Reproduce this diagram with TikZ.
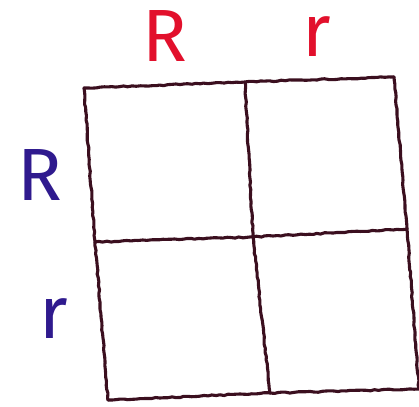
\documentclass[tikz,border=0pt]{standalone}
\usepackage{fontspec}
\setmainfont{Fira Sans}
\usetikzlibrary{decorations.pathmorphing}
\definecolor{inkline}{HTML}{3B0F1F}
\definecolor{inkred}{HTML}{E2102C}
\definecolor{inkblue}{HTML}{2F1A8E}
\begin{document}
\begin{tikzpicture}[x=1pt,y=-1pt,
  gridline/.style={draw=inkline,line width=3.1pt,line cap=round,line join=round,
    decorate,decoration={random steps,segment length=4pt,amplitude=0.6pt}},
  lbl/.style={inner sep=0pt,anchor=base,font=\fontsize{74}{80}\selectfont}]
\useasboundingbox (0,0) rectangle (419,406);
% corner coordinates
\coordinate (tl) at (84,88);
\coordinate (tm) at (245,82);
\coordinate (tr) at (394,77);
\coordinate (ml) at (95,242);
\coordinate (mm) at (253,237);
\coordinate (mr) at (407,229);
\coordinate (bl) at (108,400);
\coordinate (bm) at (270,393);
\coordinate (br) at (419,389);
% grid
\draw[gridline] (tl) -- (tm) -- (tr);
\draw[gridline] (ml) -- (mm) -- (mr);
\draw[gridline] (bl) -- (bm) -- (br);
\draw[gridline] (tl) -- (ml) -- (bl);
\draw[gridline] (tm) -- (mm) -- (bm);
\draw[gridline] (tr) -- (mr) -- (br);
% labels
\node[lbl,text=inkred] (topR) at (165,62) {R};
\node[lbl,text=inkred] (topr) at (317,57) {r};
\node[lbl,text=inkblue] (leftR) at (40,200) {R};
\node[lbl,text=inkblue] (leftr) at (54,338) {r};
\end{tikzpicture}
\end{document}
